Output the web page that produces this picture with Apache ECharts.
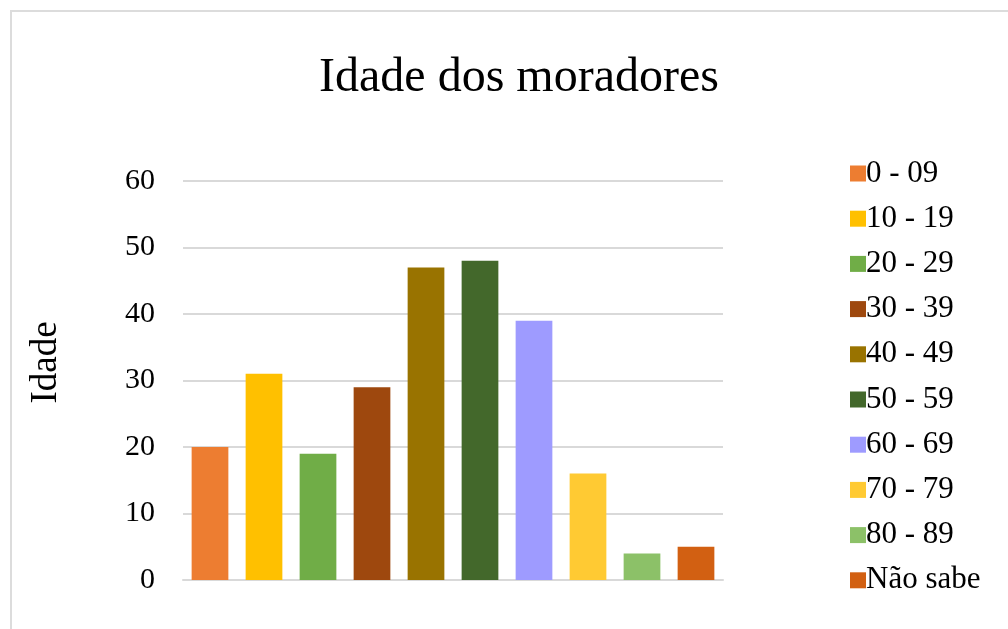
<!DOCTYPE html>
<html>
<head>
<meta charset="utf-8">
<script src="https://cdn.jsdelivr.net/npm/echarts@6/dist/echarts.min.js"></script>
<style>
  html, body { margin: 0; padding: 0; background: #fff; }
  #frame { position: absolute; left: 10px; top: 10px; width: 1010px; height: 630px; border: 2px solid #dcdcdc; box-sizing: border-box; }
  #main { position: absolute; left: 0; top: 0; width: 1008px; height: 629px; }
</style>
</head>
<body>
<div id="frame"></div>
<div id="main"></div>
<script>
// dados do gráfico
const faixas = ['0 - 09', '10 - 19', '20 - 29', '30 - 39', '40 - 49', '50 - 59', '60 - 69', '70 - 79', '80 - 89', 'Não sabe']
const quantidades = [20, 31, 19, 29, 47, 48, 39, 16, 4, 5]
const cores = ['#ED7D31', '#FFC000', '#70AD47', '#9E480E', '#997300', '#43682B', '#9E9BFF', '#FFCA33', '#8CC168', '#D26012']
const yTicks = [0, 10, 20, 30, 40, 50, 60]

const fonte = '"Liberation Serif", "Times New Roman", serif'

// uma série por faixa, empilhadas para ficarem centradas na categoria
let series = faixas.map(function (nome, i) {
    return {
        name: nome,
        type: 'bar',
        stack: 'total',
        barCategoryGap: '32%',
        itemStyle: { color: cores[i] },
        data: faixas.map(function (f, j) { return j === i ? quantidades[i] : '-' })
    }
})

let myChart = echarts.init(document.getElementById('main'))
let option = {
    animation: false,
    title: {
        text: 'Idade dos moradores',
        left: 514,
        top: 49,
        textAlign: 'center',
        textStyle: { fontFamily: fonte, fontWeight: 'normal', fontSize: 48, color: '#000' }
    },
    legend: {
        orient: 'vertical',
        left: 845,
        top: 153,
        itemWidth: 16,
        itemHeight: 16,
        itemGap: 14.2,
        icon: 'rect',
        textStyle: { fontFamily: fonte, fontSize: 31, color: '#000', lineHeight: 31, padding: [0, 0, 0, -5] },
        data: faixas
    },
    grid: { left: 183, right: 285, top: 181, bottom: 49 },
    xAxis: {
        type: 'category',
        data: faixas,
        axisLine: { lineStyle: { color: '#d9d9d9', width: 2 } },
        axisTick: { show: false },
        axisLabel: { show: false }
    },
    yAxis: {
        type: 'value',
        min: yTicks[0],
        max: yTicks[yTicks.length - 1],
        interval: 10,
        name: 'Idade',
        nameLocation: 'middle',
        nameGap: 118,
        nameTextStyle: { fontFamily: fonte, fontSize: 37, color: '#000', padding: [0, 0, 0, 36] },
        axisLabel: { fontFamily: fonte, fontSize: 30, color: '#000', margin: 28 },
        splitLine: { lineStyle: { color: '#d9d9d9', width: 2 } },
        axisLine: { show: false },
        axisTick: { show: false }
    },
    series: series
}
myChart.setOption(option)
</script>
</body>
</html>
